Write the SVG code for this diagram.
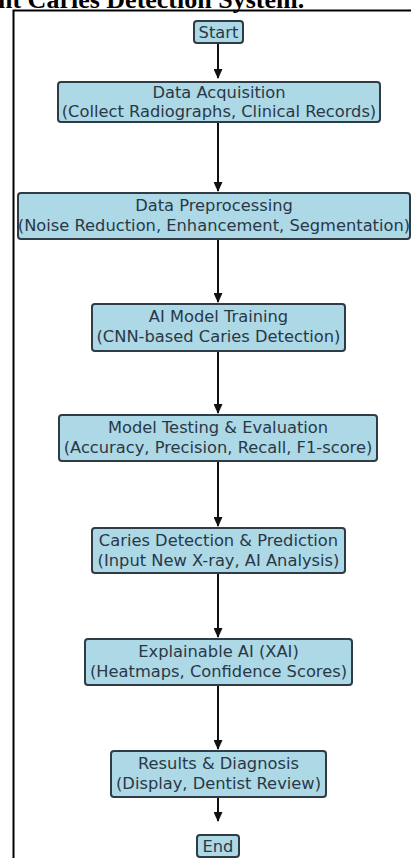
<svg xmlns="http://www.w3.org/2000/svg" width="411" height="858" viewBox="0 0 411 858">
<style>
.box{fill:#add8e6;stroke:#2f3b45;stroke-width:2}
.t{font-family:"DejaVu Sans",sans-serif;font-size:16.3px;fill:#2a3846;text-anchor:middle}
.c{stroke:#111;stroke-width:2;fill:none;marker-end:url(#ah)}
.title{font-family:"Liberation Serif",serif;font-weight:bold;font-size:26px;fill:#000}
</style>
<defs>
<marker id="ah" markerWidth="10" markerHeight="9" refX="9" refY="4.5" orient="auto" markerUnits="userSpaceOnUse">
<path d="M0,0 L10,4.5 L0,9 Z" fill="#111"/>
</marker>
</defs>
<rect width="411" height="858" fill="#fff"/>
<text class="title" x="-2" y="8">nt Caries Detection System.</text>
<path d="M13.5,858 V10.5 H411" fill="none" stroke="#000" stroke-width="2"/>
<g id="connectors">
<line class="c" x1="218" y1="44" x2="218" y2="78"/>
<line class="c" x1="218" y1="123" x2="218" y2="191"/>
<line class="c" x1="218" y1="240" x2="218" y2="302"/>
<line class="c" x1="218" y1="352" x2="218" y2="413"/>
<line class="c" x1="218" y1="462" x2="218" y2="526"/>
<line class="c" x1="218" y1="574" x2="218" y2="637"/>
<line class="c" x1="218" y1="686" x2="218" y2="749"/>
<line class="c" x1="218" y1="798" x2="218" y2="821"/>
</g>
<g id="start"><rect class="box" x="194" y="21" width="49" height="22" rx="3"/><text class="t" x="218.5" y="37.5">Start</text></g>
<g id="acquisition"><rect class="box" x="58" y="82" width="322" height="40" rx="3"/><text class="t" x="219" y="98">Data Acquisition</text><text class="t" x="219" y="116.5">(Collect Radiographs, Clinical Records)</text></g>
<g id="preprocessing"><rect class="box" x="18" y="193" width="392" height="46" rx="3"/><text class="t" x="214" y="211">Data Preprocessing</text><text class="t" x="214" y="230.5">(Noise Reduction, Enhancement, Segmentation)</text></g>
<g id="training"><rect class="box" x="92" y="304" width="253" height="47" rx="3"/><text class="t" x="218.5" y="322">AI Model Training</text><text class="t" x="218.5" y="341.5">(CNN-based Caries Detection)</text></g>
<g id="testing"><rect class="box" x="59" y="415" width="318" height="46" rx="3"/><text class="t" x="218" y="433">Model Testing &amp; Evaluation</text><text class="t" x="218" y="452.5">(Accuracy, Precision, Recall, F1-score)</text></g>
<g id="detection"><rect class="box" x="92" y="528" width="253" height="45" rx="3"/><text class="t" x="218.5" y="546">Caries Detection &amp; Prediction</text><text class="t" x="218.5" y="565.5">(Input New X-ray, AI Analysis)</text></g>
<g id="xai"><rect class="box" x="85" y="639" width="267" height="46" rx="3"/><text class="t" x="218.5" y="657">Explainable AI (XAI)</text><text class="t" x="218.5" y="676.5">(Heatmaps, Confidence Scores)</text></g>
<g id="results"><rect class="box" x="111" y="751" width="215" height="46" rx="3"/><text class="t" x="218.5" y="769">Results &amp; Diagnosis</text><text class="t" x="218.5" y="788.5">(Display, Dentist Review)</text></g>
<g id="end"><rect class="box" x="197" y="835" width="42" height="22" rx="3"/><text class="t" x="218" y="851.5">End</text></g>
</svg>
